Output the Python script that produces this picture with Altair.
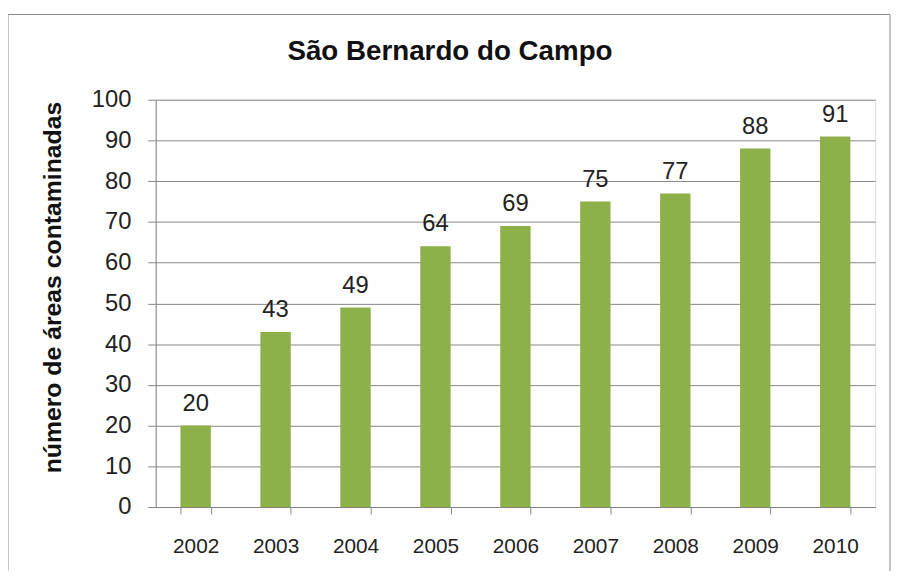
import altair as alt
import pandas as pd

chart_title = ["São Bernardo do Campo"]
y_title = "número de áreas contaminadas"
years = ["2002", "2003", "2004", "2005", "2006", "2007", "2008", "2009", "2010"]
areas = [20, 43, 49, 64, 69, 75, 77, 88, 91]
y_ticks = [0, 10, 20, 30, 40, 50, 60, 70, 80, 90, 100]

df = pd.DataFrame({"ano": years, "areas": areas})
title_df = pd.DataFrame({"t": chart_title})

FONT = "Liberation Sans"
GRAY = "#868686"
W, H = 726, 411

x_enc = alt.X(
    "ano:O",
    title=None,
    sort=years,
    scale=alt.Scale(paddingInner=0.62, paddingOuter=0.31),
    axis=alt.Axis(
        labelAngle=0, labelFontSize=21, labelPadding=22, labelColor="#222222",
        labelFont=FONT, tickBand="extent", tickSize=7, tickColor=GRAY,
        domainColor=GRAY, grid=False,
    ),
)
y_enc = alt.Y(
    "areas:Q",
    scale=alt.Scale(domain=[0, 100], nice=False),
    axis=alt.Axis(
        values=y_ticks, title=y_title, titleFont=FONT, titleFontSize=25,
        titleFontWeight="bold", titleColor="#111111", titleX=-104, titleY=189,
        titleAngle=-90, titleAlign="center", titleBaseline="middle",
        labelFontSize=24, labelFont=FONT, labelColor="#222222", labelPadding=17,
        tickSize=8, tickColor=GRAY, domainColor=GRAY, gridColor=GRAY,
        gridOpacity=1,
    ),
)

bars = alt.Chart(df).mark_bar(color="#8EB04A").encode(x=x_enc, y=y_enc)
labels = alt.Chart(df).mark_text(
    baseline="alphabetic", dy=-15, fontSize=24, font=FONT, color="#222222"
).encode(x=alt.X("ano:O", sort=years), y="areas:Q", text="areas:Q")

title = alt.Chart(title_df).mark_text(
    font=FONT, fontSize=28, fontWeight="bold", color="#111111",
    baseline="alphabetic", align="center"
).encode(text="t:N", x=alt.value(297), y=alt.value(-40))

frame = alt.Chart(title_df).mark_rect(
    fill=None, stroke="#8a8a8a", strokeWidth=1
).encode(x=alt.value(-149), x2=alt.value(741), y=alt.value(-86), y2=alt.value(520))

chart = (
    alt.layer(frame, bars, labels, title)
    .properties(
        width=W, height=H,
        autosize=alt.AutoSizeParams(type="none"),
        padding={"left": 149, "top": 90, "right": 16, "bottom": 62},
    )
    .configure_view(fill="#F0F0F0", strokeWidth=0)
    .configure(background="white")
)

chart.save("out.html", embed_options={"renderer": "svg", "actions": False})
